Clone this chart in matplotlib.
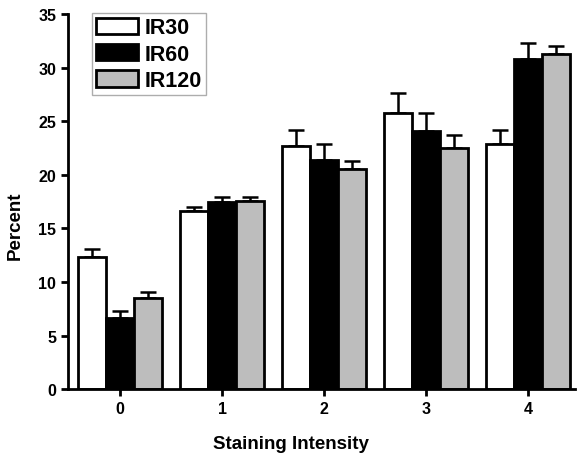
import matplotlib.pyplot as plt
import numpy as np

plt.rcParams['font.family'] = ['Liberation Sans', 'DejaVu Sans']
plt.rcParams['font.weight'] = 'bold'

intensity = [0, 1, 2, 3, 4]
series = ['IR30', 'IR60', 'IR120']
colors = ['white', 'black', '#bdbdbd']

ir30 = [12.3, 16.6, 22.7, 25.8, 22.9]
ir60 = [6.6, 17.5, 21.4, 24.1, 30.8]
ir120 = [8.5, 17.6, 20.5, 22.5, 31.3]

ir30_err = [0.8, 0.4, 1.5, 1.8, 1.3]
ir60_err = [0.7, 0.4, 1.5, 1.7, 1.5]
ir120_err = [0.6, 0.3, 0.8, 1.2, 0.7]

values = [ir30, ir60, ir120]
errors = [ir30_err, ir60_err, ir120_err]

fig = plt.figure(figsize=(5.81, 4.6), dpi=100)
ax = fig.add_axes([0.117, 0.152, 0.873, 0.815])

x = np.arange(len(intensity))
w = 0.275
for i, (name, vals, errs, c) in enumerate(zip(series, values, errors, colors)):
    pos = x + (i - 1) * w
    ax.bar(pos, vals, w, color=c, edgecolor='black', linewidth=2, label=name, zorder=2)
    ax.errorbar(pos, vals, yerr=[np.zeros(len(errs)), errs], fmt='none',
                ecolor='black', elinewidth=1.8, capsize=6, capthick=1.8, zorder=1)

ax.set_xlim(-0.51, 4.46)
ax.set_ylim(0, 35)
ax.set_yticks(np.arange(0, 36, 5))
ax.set_xticks(x)
ax.set_xticklabels([str(v) for v in intensity])

for s in ['top', 'right']:
    ax.spines[s].set_visible(False)
for s in ['left', 'bottom']:
    ax.spines[s].set_linewidth(2)
ax.tick_params(width=2, length=5, labelsize=11.5)

ax.set_xlabel('Staining Intensity', fontsize=13.5, fontweight='bold')
ax.xaxis.set_label_coords(0.44, -0.122)
ax.set_ylabel('Percent', fontsize=13.5, fontweight='bold')
ax.yaxis.set_label_coords(-0.088, 0.437)

leg = ax.legend(loc='upper left', bbox_to_anchor=(0.047, 1.003), borderaxespad=0,
                fontsize=15.5, fancybox=False, edgecolor='#999999',
                handlelength=1.95, handleheight=0.8, handletextpad=0.28,
                labelspacing=0.25, borderpad=0.2)
leg.get_frame().set_linewidth(1)

fig.savefig('out.png', dpi=100)
